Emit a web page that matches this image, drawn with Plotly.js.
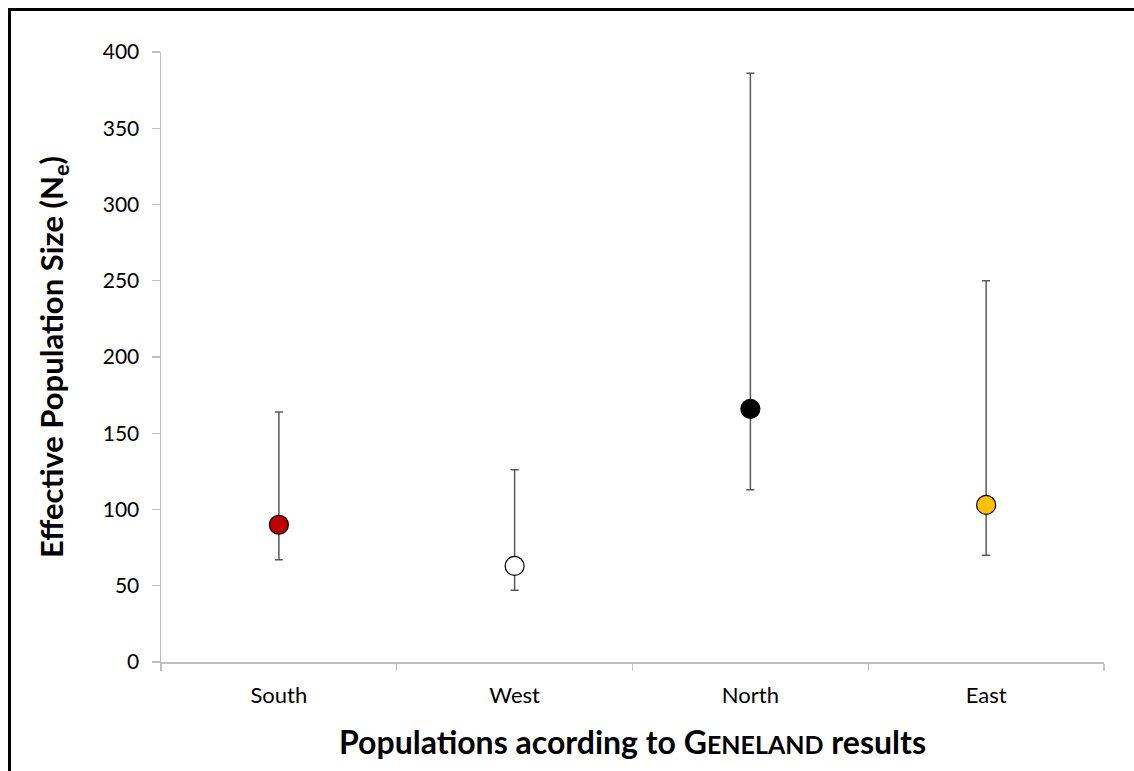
<!DOCTYPE html>
<html>
<head>
<meta charset="utf-8">
<script src="https://cdn.plot.ly/plotly-3.0.1.min.js"></script>
<style>
  html, body { margin: 0; padding: 0; background: #fff; }
  #wrap { position: relative; width: 1134px; height: 771px; }
  #chart { position: absolute; left: 0; top: 0; width: 1134px; height: 771px; }
  #frame { position: absolute; left: 8px; top: 8px; width: 1140px; height: 780px;
           border-top: 3px solid #000; border-left: 3px solid #000; pointer-events: none; }
</style>
</head>
<body>
<div id="wrap">
  <div id="chart"></div>
  <div id="frame"></div>
</div>
<script>
const categories = ["South", "West", "North", "East"];
const ne = [90, 63, 166, 103];
const upper = [164, 126, 386, 250];
const lower = [67, 47, 113, 70];
const markerColors = ["#C00000", "#FFFFFF", "#000000", "#FFC000"];
const yTicks = [0, 50, 100, 150, 200, 250, 300, 350, 400];

const errPlus = ne.map((v, i) => upper[i] - v);
const errMinus = ne.map((v, i) => v - lower[i]);

const FONT = "Lato, 'Open Sans', sans-serif";

const trace = {
  type: "scatter",
  mode: "markers",
  x: categories,
  y: ne,
  marker: { size: 19, color: markerColors, line: { color: "#000000", width: 1.2 } },
  error_y: {
    type: "data", symmetric: false,
    array: errPlus, arrayminus: errMinus,
    color: "#595959", thickness: 1.5, width: 4
  },
  showlegend: false,
  hoverinfo: "x+y"
};

const layout = {
  width: 1134, height: 771,
  margin: { l: 161, r: 30, t: 52, b: 109 },
  paper_bgcolor: "#ffffff",
  plot_bgcolor: "#ffffff",
  font: { family: FONT, size: 21, color: "#000" },
  xaxis: {
    type: "category",
    categoryorder: "array", categoryarray: categories,
    range: [-0.5, 3.5],
    automargin: true,
    showgrid: false, zeroline: false,
    showline: true, linecolor: "#BFBFBF", linewidth: 1.5,
    ticks: "outside", tickson: "boundaries", ticklen: 7, tickcolor: "#BFBFBF", tickwidth: 1.2,
    ticklabelstandoff: 13,
    tickfont: { family: FONT, size: 22, color: "#000" },
    title: {
      text: "<b>Populations acording to G<span style='font-size:25px'>ENELAND</span> results</b>",
      font: { family: FONT, size: 32, color: "#000" },
      standoff: 24
    },
    fixedrange: true
  },
  yaxis: {
    range: [0, 400],
    tickvals: yTicks,
    ticktext: yTicks.map(String),
    showgrid: false, zeroline: false,
    showline: true, linecolor: "#BFBFBF", linewidth: 1.5,
    ticks: "outside", ticklen: 8, tickcolor: "#BFBFBF", tickwidth: 1.2,
    ticklabelstandoff: 8,
    tickfont: { family: FONT, size: 21, color: "#000" },
    title: {
      text: "<b>Effective Population Size (N<sub>e</sub>)</b>",
      font: { family: FONT, size: 31, color: "#000" },
      standoff: 30
    },
    fixedrange: true
  }
};

Plotly.newPlot("chart", [trace], layout, { displayModeBar: false, staticPlot: true });
</script>
</body>
</html>
